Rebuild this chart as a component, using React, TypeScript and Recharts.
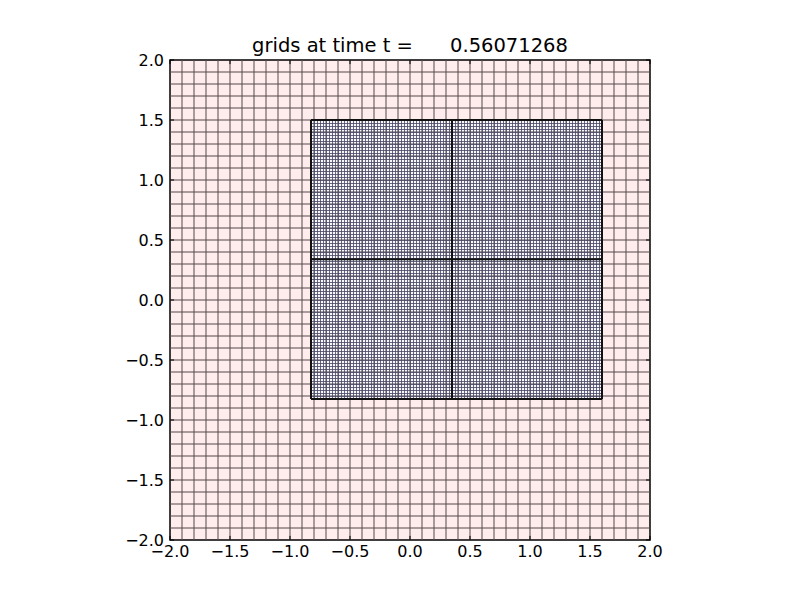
import React from 'react';
import { ScatterChart, Scatter, XAxis, YAxis, ReferenceLine, ReferenceArea } from 'recharts';

const axisTicks = [-2, -1.5, -1, -0.5, 0, 0.5, 1, 1.5, 2];
const domainMin = -2;
const domainMax = 2;
const coarseSpacing = 0.1;
const fineSpacing = 0.025;
const patchXEdges = [-0.825, 0.35, 1.6];
const patchYEdges = [-0.825, 0.34, 1.5];
const corners = [{ x: -2, y: -2 }, { x: 2, y: 2 }];
const titleText = 'grids at time t =      0.56071268';

const r4 = (v: number) => Math.round(v * 10000) / 10000;
const range = (a: number, b: number, step: number) => {
  const out: number[] = [];
  const n = Math.round((b - a) / step);
  for (let i = 0; i <= n; i++) out.push(r4(a + i * step));
  return out;
};

const coarseLines = range(domainMin, domainMax, coarseSpacing).slice(1, -1);
const fineX = range(patchXEdges[0], patchXEdges[patchXEdges.length - 1], fineSpacing);
const fineY = range(patchYEdges[0], patchYEdges[patchYEdges.length - 1], fineSpacing);

const fmt = (v: number) => v.toFixed(1).replace('-', '\u2212');
const FONT = 'DejaVu Sans';

const XTick = (props: any) => (
  <text x={props.x} y={props.y + 17} textAnchor="middle" fontFamily={FONT} fontSize={16} fill="#000">
    {fmt(props.payload.value)}
  </text>
);
const YTick = (props: any) => (
  <text x={props.x - 6} y={props.y + 6} textAnchor="end" fontFamily={FONT} fontSize={16} fill="#000">
    {fmt(props.payload.value)}
  </text>
);

const TL = 0.034;

export default function App() {
  const x0 = patchXEdges[0], x1 = patchXEdges[patchXEdges.length - 1];
  const y0 = patchYEdges[0], y1 = patchYEdges[patchYEdges.length - 1];
  return (
    <div style={{ position: 'absolute', left: 0, top: 0, width: 800, height: 600, background: '#fff' }}>
      <div style={{ position: 'absolute', left: 170, top: 35, width: 480, textAlign: 'center', fontFamily: FONT, fontSize: 19.5, lineHeight: '22px', whiteSpace: 'pre', color: '#000' }}>
        {titleText}
      </div>
      <ScatterChart width={800} height={600} margin={{ top: 60, right: 150, bottom: 30, left: 110 }}>
        <XAxis type="number" dataKey="x" domain={[domainMin, domainMax]} ticks={axisTicks} tick={<XTick />} tickLine={false} tickSize={0} tickMargin={0} axisLine={false} height={30} allowDataOverflow />
        <YAxis type="number" dataKey="y" domain={[domainMin, domainMax]} ticks={axisTicks} tick={<YTick />} tickLine={false} tickSize={0} tickMargin={0} axisLine={false} width={60} allowDataOverflow />
        <ReferenceArea x1={domainMin} x2={domainMax} y1={domainMin} y2={domainMax} fill="#ffecec" fillOpacity={1} stroke="none" ifOverflow="visible" />
        {coarseLines.map((v) => (
          <ReferenceLine key={'cx' + v} segment={[{ x: v, y: domainMin }, { x: v, y: domainMax }]} stroke="#54484a" strokeWidth={1} ifOverflow="visible" />
        ))}
        {coarseLines.map((v) => (
          <ReferenceLine key={'cy' + v} segment={[{ x: domainMin, y: v }, { x: domainMax, y: v }]} stroke="#54484a" strokeWidth={1} ifOverflow="visible" />
        ))}
        <ReferenceArea x1={x0} x2={x1} y1={y0} y2={y1} fill="#f8f8fc" fillOpacity={1} stroke="none" ifOverflow="visible" />
        {fineX.map((v) => (
          <ReferenceLine key={'fx' + v} segment={[{ x: v, y: y0 }, { x: v, y: y1 }]} stroke="#4c4c68" strokeOpacity={0.85} strokeWidth={1} shapeRendering="crispEdges" ifOverflow="visible" />
        ))}
        {fineY.map((v) => (
          <ReferenceLine key={'fy' + v} segment={[{ x: x0, y: v }, { x: x1, y: v }]} stroke="#4c4c68" strokeOpacity={0.85} strokeWidth={1} shapeRendering="crispEdges" ifOverflow="visible" />
        ))}
        {patchXEdges.map((v) => (
          <ReferenceLine key={'px' + v} segment={[{ x: v, y: y0 }, { x: v, y: y1 }]} stroke="#111" strokeWidth={2} ifOverflow="visible" />
        ))}
        {patchYEdges.map((v) => (
          <ReferenceLine key={'py' + v} segment={[{ x: x0, y: v }, { x: x1, y: v }]} stroke="#111" strokeWidth={2} ifOverflow="visible" />
        ))}
        {axisTicks.map((v) => (
          <ReferenceLine key={'tb' + v} segment={[{ x: v, y: domainMin }, { x: v, y: domainMin + TL }]} stroke="#000" strokeWidth={1} ifOverflow="visible" />
        ))}
        {axisTicks.map((v) => (
          <ReferenceLine key={'tt' + v} segment={[{ x: v, y: domainMax }, { x: v, y: domainMax - TL }]} stroke="#000" strokeWidth={1} ifOverflow="visible" />
        ))}
        {axisTicks.map((v) => (
          <ReferenceLine key={'tl' + v} segment={[{ x: domainMin, y: v }, { x: domainMin + TL, y: v }]} stroke="#000" strokeWidth={1} ifOverflow="visible" />
        ))}
        {axisTicks.map((v) => (
          <ReferenceLine key={'tr' + v} segment={[{ x: domainMax, y: v }, { x: domainMax - TL, y: v }]} stroke="#000" strokeWidth={1} ifOverflow="visible" />
        ))}
        <ReferenceArea x1={domainMin} x2={domainMax} y1={domainMin} y2={domainMax} fill="none" stroke="#000" strokeWidth={1.5} ifOverflow="visible" />
        <Scatter data={corners} isAnimationActive={false} shape={() => <g />} />
      </ScatterChart>
    </div>
  );
}
